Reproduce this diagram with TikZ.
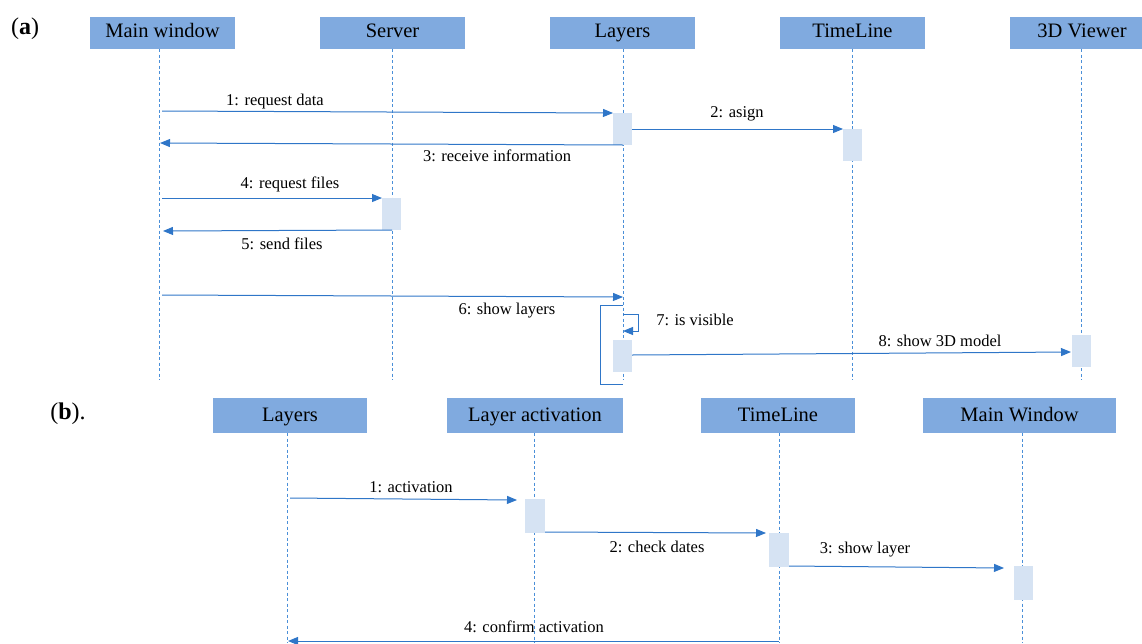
\documentclass[tikz,border=0pt]{standalone}
\usepackage{fontspec}
\setmainfont{Liberation Serif}
\usetikzlibrary{arrows.meta}
\definecolor{headblue}{HTML}{80AADF}
\definecolor{actblue}{HTML}{D6E3F3}
\definecolor{lifeblue}{HTML}{4A8FD8}
\definecolor{msgblue}{HTML}{2F76C8}
\newcommand{\hfont}{\fontsize{20.5}{24}\selectfont}
\newcommand{\lfont}{\fontsize{16.5}{19}\selectfont}
\tikzset{
  head/.style={fill=headblue, inner sep=0pt, minimum height=32pt, font=\hfont,
    text height=14pt, text depth=6pt},
  headb/.style={head, minimum height=35pt, text height=15pt, text depth=4pt},
  act/.style={fill=actblue, inner sep=0pt, minimum width=19pt, minimum height=32pt},
  life/.style={draw=lifeblue, line width=0.8pt, dash pattern=on 3pt off 2.5pt},
  msg/.style={draw=msgblue, line width=1pt, -{Triangle[length=10pt,width=8pt]}},
  lbl/.style={font=\lfont, inner sep=0pt, text height=12pt, text depth=3pt},
  tag/.style={font=\fontsize{24}{28}\selectfont, inner sep=0pt, text height=17pt, text depth=5pt}
}
\begin{document}
\begin{tikzpicture}[x=1pt,y=-1pt]
\useasboundingbox (0,0) rectangle (1142,643);

% ---------------- part (a) ----------------
\node[tag] (ta) at (25,28) {(\textbf{a})};

\node[head, minimum width=145pt] (mw) at (162.5,33) {Main window};
\node[head, minimum width=145pt] (sv) at (392.5,33) {Server};
\node[head, minimum width=145pt] (ly) at (622.5,33) {Layers};
\node[head, minimum width=145pt] (tl) at (852.5,33) {TimeLine};
\fill[headblue] (1010,17) rectangle (1142,49);
\node[font=\hfont, inner sep=0pt, text height=14pt, text depth=6pt] (vw) at (1082,33) {3D Viewer};

% lifelines
\coordinate (mwE) at (159,380);
\coordinate (svE) at (392,380);
\coordinate (lyE) at (623,380);
\coordinate (tlE) at (852,380);
\coordinate (vwE) at (1081,380);
\draw[life] (159,49) -- (mwE);
\draw[life] (392,49) -- (svE);
\draw[life] (623,49) -- (lyE);
\draw[life] (852,49) -- (tlE);
\draw[life] (1081,49) -- (vwE);

% activation bars
\node[act] (a1) at (622.5,129) {};
\node[act] (a2) at (852,145) {};
\node[act] (a3) at (391.5,214) {};
\node[act] (a4) at (622.5,355.5) {};
\node[act] (a5) at (1081,351) {};

% 1
\coordinate (m1s) at (162,111);
\coordinate (m1e) at (613,113);
\draw[msg] (m1s) -- (m1e);
\node[lbl] (l1) at (275,101) {1: request data};
% 2
\coordinate (m2s) at (632,129);
\coordinate (m2e) at (843,129);
\draw[msg] (m2s) -- (m2e);
\node[lbl] (l2) at (737,113) {2: asign};
% 3
\coordinate (m3s) at (623,145);
\coordinate (m3e) at (160,143);
\draw[msg] (m3s) -- (m3e);
\node[lbl] (l3) at (497,157) {3: receive information};
% 4
\coordinate (m4s) at (162,198);
\coordinate (m4e) at (382,198);
\draw[msg] (m4s) -- (m4e);
\node[lbl] (l4) at (290,184) {4: request files};
% 5
\coordinate (m5s) at (392,230);
\coordinate (m5e) at (163,231);
\draw[msg] (m5s) -- (m5e);
\node[lbl] (l5) at (282,245) {5: send files};
% 6
\coordinate (m6s) at (162,295);
\coordinate (m6e) at (623,297);
\draw[msg] (m6s) -- (m6e);
\node[lbl] (l6) at (507,310) {6: show layers};
% frame around the layer loop
\draw[msgblue, line width=1pt] (623,305) -| (600,384) -- (623,384);
% 7 (self call)
\coordinate (m7s) at (623,314);
\coordinate (m7e) at (623,331);
\draw[msg] (m7s) -- (638,314) |- (m7e);
\node[lbl] (l7) at (695,321) {7: is visible};
% 8
\coordinate (m8s) at (632,355);
\coordinate (m8e) at (1071,352);
\draw[msg] (m8s) -- (m8e);
\node[lbl] (l8) at (940,342) {8: show 3D model};

% ---------------- part (b) ----------------
\node[tag] (tb) at (68,413) {(\textbf{b}).};

\node[headb, minimum width=154pt] (bly) at (290,415.5) {Layers};
\node[headb, minimum width=176pt] (bla) at (535,415.5) {Layer activation};
\node[headb, minimum width=154pt] (btl) at (778,415.5) {TimeLine};
\node[headb, minimum width=193pt] (bmw) at (1019.5,415.5) {Main Window};

\coordinate (blyE) at (287,643);
\coordinate (blaE) at (534,643);
\coordinate (btlE) at (779,643);
\coordinate (bmwE) at (1022,643);
\draw[life] (287,433) -- (blyE);
\draw[life] (534,433) -- (blaE);
\draw[life] (779,433) -- (btlE);
\draw[life] (1022,433) -- (bmwE);

\node[act, minimum width=20pt, minimum height=34pt] (b1) at (534.5,516) {};
\node[act, minimum width=20pt, minimum height=34pt] (b2) at (779,550) {};
\node[act, minimum width=19pt, minimum height=34pt] (b3) at (1023,583) {};

% 1
\coordinate (n1s) at (290,498);
\coordinate (n1e) at (517,500);
\draw[msg] (n1s) -- (n1e);
\node[lbl] (k1) at (411,488) {1: activation};
% 2
\coordinate (n2s) at (545,532);
\coordinate (n2e) at (766,533);
\draw[msg] (n2s) -- (n2e);
\node[lbl] (k2) at (657,548) {2: check dates};
% 3
\coordinate (n3s) at (789,566);
\coordinate (n3e) at (1004,568);
\draw[msg] (n3s) -- (n3e);
\node[lbl] (k3) at (865,549) {3: show layer};
% 4
\coordinate (n4s) at (779,641);
\coordinate (n4e) at (288,641);
\draw[msg] (n4s) -- (n4e);
\node[lbl] (k4) at (534,628) {4: confirm activation};
\end{tikzpicture}
\end{document}
